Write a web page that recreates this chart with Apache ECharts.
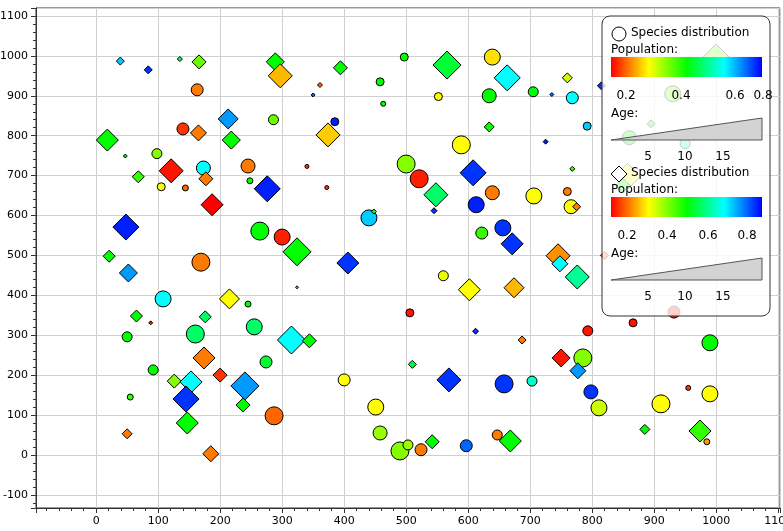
<!DOCTYPE html>
<html>
<head>
<meta charset="utf-8">
<script src="https://cdn.jsdelivr.net/npm/echarts@6/dist/echarts.min.js"></script>
<style>html,body{margin:0;padding:0;background:#fff}#main{width:783px;height:531px}</style>
</head>
<body>
<div id="main"></div>
<script>
// [x, y, population, age-size]
var circles = [
  [163,915,.12,12],[140,817,.05,12],[98,755,.37,10],[105,672,.25,8],[173,719,.75,14],[144,669,.1,6],
  [245,724,.12,14],[248,687,.5,6],[286,840,.4,10],[385,835,.97,8],[458,935,.5,8],[463,880,.5,5],
  [497,997,.5,8],[639,997,.22,16],[634,900,.5,14],[705,910,.5,10],[768,895,.75,12],[552,898,.25,8],
  [792,824,.8,8],[500,729,.37,18],[521,692,.03,18],[589,777,.25,18],[639,657,.12,14],[613,627,.97,16],
  [706,649,.25,16],[760,660,.12,8],[766,622,.25,14],[622,556,.45,12],[656,569,.95,16],[440,594,.8,16],
  [340,723,.05,4],[372,670,.05,4],[300,546,.03,16],[264,561,.5,18],[169,483,.12,18],[108,391,.75,16],
  [245,378,.5,6],[50,296,.5,10],[160,303,.6,18],[255,321,.6,16],[274,233,.55,12],[92,213,.5,10],
  [55,145,.45,6],[287,98,.1,18],[400,188,.25,12],[451,120,.25,16],[458,55,.35,14],[490,10,.37,18],
  [503,25,.35,10],[524,13,.12,12],[560,449,.27,10],[506,356,.02,8],[658,178,.95,18],[703,185,.7,10],
  [597,23,.9,12],[647,50,.12,10],[785,243,.37,18],[793,311,.02,10],[798,158,.95,14],[811,118,.3,16],
  [866,331,.02,8],[932,358,.03,12],[990,281,.5,16],[911,128,.25,18],[955,168,.05,5],[990,153,.25,16],
  [985,33,.15,6],[860,795,.5,14],[930,905,.4,16],[950,780,.7,10]
];
var diamonds = [
  [18,789,.5,22],[39,987,.8,8],[84,965,.95,8],[135,992,.6,5],[166,985,.4,14],[165,807,.12,16],
  [213,842,.85,20],[218,789,.5,18],[47,749,.5,4],[68,697,.45,12],[121,712,.02,24],[177,692,.12,14],
  [187,627,0,22],[276,667,.97,26],[289,985,.5,18],[297,950,.18,24],[361,927,.1,5],[350,902,.9,4],
  [394,970,.5,14],[374,802,.2,24],[566,977,.55,28],[663,945,.75,26],[634,822,.5,10],[548,652,.6,24],
  [545,612,.95,6],[608,707,.95,26],[671,529,.95,22],[725,785,.97,5],[768,717,.45,5],[735,903,.9,4],
  [760,945,.3,10],[815,925,.95,8],[775,622,.12,8],[448,610,.5,5],[406,481,.95,22],[324,509,.5,28],
  [21,498,.5,12],[48,571,.97,26],[52,456,.85,18],[215,391,.25,20],[65,348,.5,12],[88,331,.02,4],
  [176,346,.6,12],[324,420,.1,3],[315,288,.75,28],[344,286,.5,14],[174,243,.12,22],[200,200,.05,14],
  [126,185,.37,14],[153,183,.75,22],[145,140,.95,26],[240,173,.85,28],[237,125,.5,14],[147,80,.5,22],
  [50,53,.12,10],[185,3,.12,16],[542,33,.5,14],[569,188,.95,24],[602,414,.25,22],[612,310,.95,6],
  [510,227,.55,8],[674,419,.18,20],[687,288,.12,8],[668,35,.5,22],[745,499,.14,24],[748,479,.75,16],
  [776,446,.65,24],[750,243,.02,18],[777,211,.85,16],[820,500,.08,8],[885,64,.5,10],[974,60,.45,22],
  [1000,997,.4,26],[857,698,.25,26],[850,675,.5,14],[895,830,.55,8]
];
var palette = ['#ff0000', '#ffff00', '#00ff00', '#00ffff', '#0000ff'];

var chart = echarts.init(document.getElementById('main'));

function grad() {
  return new echarts.graphic.LinearGradient(0, 0, 1, 0, palette.map(function (c, i) {
    return { offset: i / 4, color: c };
  }));
}
function legendBlock(top, shape, popLabels, ageLabels) {
  var els = [];
  els.push(shape === 'circle'
    ? { type: 'circle', shape: { cx: 619, cy: top + 18, r: 7 }, style: { fill: '#fff', stroke: '#000', lineWidth: 1 } }
    : { type: 'polygon', shape: { points: [[619, top + 10], [627, top + 18], [619, top + 26], [611, top + 18]] }, style: { fill: '#fff', stroke: '#000', lineWidth: 1 } });
  els.push({ type: 'text', x: 631, y: top + 11, style: { text: 'Species distribution', font: '12px "DejaVu Sans"', fill: '#000' } });
  els.push({ type: 'text', x: 611, y: top + 28, style: { text: 'Population:', font: '12px "DejaVu Sans"', fill: '#000' } });
  els.push({ type: 'rect', shape: { x: 611, y: top + 41, width: 151, height: 20 }, style: { fill: grad() } });
  popLabels.forEach(function (p) {
    els.push({ type: 'text', x: p[0], y: p[1], style: { text: p[2], font: '12px "DejaVu Sans"', fill: '#000', align: 'center' } });
  });
  els.push({ type: 'text', x: 611, y: top + 92, style: { text: 'Age:', font: '12px "DejaVu Sans"', fill: '#000' } });
  els.push({ type: 'polygon', shape: { points: [[611, top + 124], [762, top + 102], [762, top + 124]] }, style: { fill: '#d3d3d3', stroke: '#555', lineWidth: 1 } });
  ageLabels.forEach(function (p) {
    els.push({ type: 'text', x: p[0], y: top + 135, style: { text: p[1], font: '12px "DejaVu Sans"', fill: '#000', align: 'center' } });
  });
  return els;
}

var legendEls = [{ type: 'rect', shape: { x: 602, y: 16, width: 168, height: 300, r: 8 }, style: { fill: 'rgba(255,255,255,0.8)', stroke: '#333', lineWidth: 1 } }]
  .concat(legendBlock(16, 'circle', [[626, 90, '0.2'], [681, 90, '0.4'], [735, 90, '0.6'], [763, 90, '0.8']], [[648, '5'], [685, '10'], [723, '15']]))
  .concat(legendBlock(156, 'diamond', [[627, 230, '0.2'], [667, 230, '0.4'], [708, 230, '0.6'], [747, 230, '0.8']], [[648, '5'], [685, '10'], [723, '15']]));
legendEls.forEach(function (e) { e.z = 100; });

var axisCommon = {
  type: 'value', splitNumber: 12,
  axisLine: { show: true, onZero: false, lineStyle: { color: '#333' } },
  axisTick: { show: true, inside: false, length: 5, lineStyle: { color: '#333' } },
  minorTick: { show: true, splitNumber: 5, length: 3, lineStyle: { color: '#333' } },
  splitLine: { show: true, lineStyle: { color: '#d0d0d0' } },
  axisLabel: { color: '#000', fontSize: 11, fontFamily: 'DejaVu Sans', showMinLabel: false, showMaxLabel: false,
    formatter: function (v) { return String(v); } }
};

chart.setOption({
  animation: false,
  grid: { left: 36, right: 3, top: 8, bottom: 23, show: true, borderColor: '#333', containLabel: false, outerBoundsMode: 'none' },
  xAxis: Object.assign({}, axisCommon, { min: -97, max: 1103 }),
  yAxis: Object.assign({}, axisCommon, { min: -133, max: 1120 }),
  visualMap: { show: false, dimension: 2, min: 0, max: 1, inRange: { color: palette } },
  series: [
    { type: 'scatter', symbol: 'circle', data: circles, symbolSize: function (v) { return v[3]; },
      itemStyle: { borderColor: '#000', borderWidth: 1, opacity: 1 } },
    { type: 'scatter', symbol: 'diamond', data: diamonds, symbolSize: function (v) { return v[3]; },
      itemStyle: { borderColor: '#000', borderWidth: 1, opacity: 1 } }
  ],
  graphic: legendEls
});
</script>
</body>
</html>
